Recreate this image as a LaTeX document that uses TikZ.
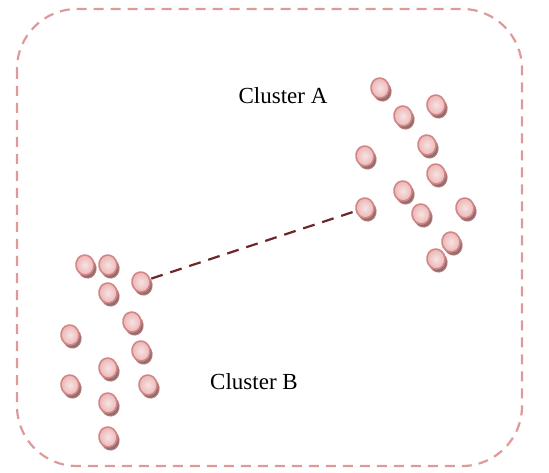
\documentclass[tikz,border=0pt]{standalone}
\usepackage{fontspec}
\setmainfont{Liberation Serif}
\usetikzlibrary{shapes.geometric,shadows}
\definecolor{frame}{HTML}{DE9A9A}
\definecolor{dotedge}{HTML}{D48585}
\definecolor{dotin}{HTML}{F8E2E2}
\definecolor{dotout}{HTML}{EBB4B4}
\definecolor{dotshadow}{HTML}{8E6E6E}
\definecolor{linkcol}{HTML}{6E2626}
\tikzset{
  dotnode/.style={ellipse, draw=dotedge, line width=1.6pt, minimum width=18pt, minimum height=20pt,
    inner sep=0pt, rotate=8, inner color=dotin, outer color=dotout,
    general shadow={shadow xshift=2.2pt, shadow yshift=-3.2pt, fill=dotshadow, draw=dotedge!70!dotshadow, line width=0.8pt}},
  linkline/.style={draw=linkcol, line width=2.2pt, dash pattern=on 12pt off 8pt, shorten <=1pt, shorten >=1pt},
  framebox/.style={draw=frame, line width=2.2pt, dash pattern=on 10pt off 7pt, rounded corners=60pt},
  label/.style={font=\fontsize{23}{27}\selectfont, anchor=base, inner sep=0pt}
}
\begin{document}
\begin{tikzpicture}[x=1pt,y=-1pt]
\useasboundingbox (0,0) rectangle (549,473);
\draw[framebox] (17,9) rectangle (522,466);
\node[label] (la) at (283,104) {Cluster A};
\node[label] (lb) at (254,389) {Cluster B};
% Cluster A
\node[dotnode] (a1) at (380,88) {};
\node[dotnode] (a2) at (436,105) {};
\node[dotnode] (a3) at (403,116) {};
\node[dotnode] (a4) at (427,145) {};
\node[dotnode] (a5) at (365,156) {};
\node[dotnode] (a6) at (436,174) {};
\node[dotnode] (a7) at (403,191) {};
\node[dotnode] (a8) at (365,208) {};
\node[dotnode] (a9) at (421,214) {};
\node[dotnode] (a10) at (465,208) {};
\node[dotnode] (a11) at (451,242) {};
\node[dotnode] (a12) at (436,259) {};
% Cluster B
\node[dotnode] (b1) at (85,265) {};
\node[dotnode] (b2) at (108,265) {};
\node[dotnode] (b3) at (141,282) {};
\node[dotnode] (b4) at (108,293) {};
\node[dotnode] (b5) at (132,322) {};
\node[dotnode] (b6) at (70,335) {};
\node[dotnode] (b7) at (141,351) {};
\node[dotnode] (b8) at (108,368) {};
\node[dotnode] (b9) at (70,385) {};
\node[dotnode] (b10) at (148,385) {};
\node[dotnode] (b11) at (108,403) {};
\node[dotnode] (b12) at (108,437) {};
\draw[linkline] (b3) -- (a8);
\end{tikzpicture}
\end{document}
